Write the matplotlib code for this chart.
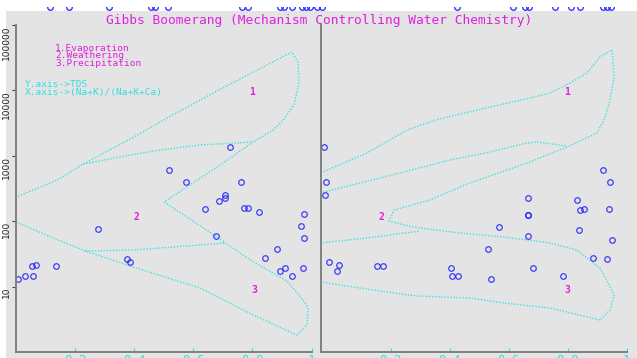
import numpy as np
import matplotlib
matplotlib.use('Agg')
import matplotlib.pyplot as plt
from matplotlib.patches import Rectangle

# Gibbs boomerang, two panels (TDS vs cation ratio / anion ratio)
W, H = 637, 358
mono = 'DejaVu Sans Mono'
magenta = '#e020e0'
cyan = '#30dede'
blue = '#2020ff'

# sample points, left panel
left_x = [0.724, 0.518, 0.575, 0.761, 0.707, 0.707, 0.687, 0.640, 0.772, 0.785,
          0.822, 0.975, 0.277, 0.964, 0.677, 0.975, 0.883, 0.843, 0.376, 0.386,
          0.054, 0.068, 0.135, 0.030, 0.058, 0.007, 0.893, 0.910, 0.971, 0.934]
left_tds = [1364, 607, 397, 397, 252, 226, 204, 154, 159, 159,
            138, 129, 76, 84.5, 59, 55, 37.6, 27.4, 26.4, 23.8,
            20.6, 21.4, 20.6, 14.5, 14.5, 13.1, 17.3, 19.2, 19.2, 14.5]

# sample points, right panel
right_x = [-0.026, -0.019, -0.022, 0.921, 0.944, 0.666, 0.832, 0.666, 0.666, 0.842,
           0.856, 0.940, 0.568, 0.839, 0.666, 0.951, 0.530, 0.886, 0.934, -0.009,
           0.025, 0.018, 0.154, 0.174, 0.405, 0.408, 0.429, 0.541, 0.683, 0.785]
right_tds = [1364, 397, 252, 607, 397, 226, 211, 124, 124, 148,
             154, 154, 81, 73, 59, 52, 37.6, 27.4, 26.4, 23.8,
             21.4, 17.3, 20.6, 20.6, 19.2, 14.5, 14.5, 13.1, 19.2, 14.5]

# boomerang outlines, left panel
left_outer_x = [0.000, 0.125, 0.234, 0.386, 0.623, 0.802, 0.951, 0.985, 0.988, 0.971,
                0.917, 0.792, 0.680, 0.501, 0.680, 0.802, 0.870, 0.904, 0.941, 0.958,
                0.954, 0.934, 0.816, 0.667, 0.511, 0.386, 0.227, 0.139, 0.000]
left_outer_y = [97.2, 55.3, 35.0, 20.6, 9.5, 3.68, 1.82, 2.59, 4.71, 6.24,
                12.2, 25.5, 57.3, 197, 674, 1625, 2478, 3524, 5980, 13430,
                27170, 38640, 20500, 9120, 3785, 1806, 750, 427, 234]
left_inner_up_x = [0.227, 0.386, 0.487, 0.623, 0.802]
left_inner_up_y = [750, 1028, 1228, 1463, 1625]
left_inner_lo_x = [0.234, 0.396, 0.623, 0.707]
left_inner_lo_y = [35.0, 36.3, 43.3, 46.4]

# boomerang outlines, right panel
right_outer_x = [-0.039, 0.096, 0.212, 0.290, 0.469, 0.585, 0.741, 0.910, 0.944, 0.958,
                 0.934, 0.910, 0.832, 0.741, 0.585, 0.435, 0.300, 0.246, 0.195, 0.212,
                 0.334, 0.459, 0.663, 0.798, 0.900, 0.927, 0.944, 0.958, 0.951, 0.910,
                 0.866, 0.808, 0.741, 0.673, 0.537, 0.364, 0.256, 0.120, -0.039]
right_outer_y = [11.8, 9.52, 7.99, 7.18, 6.69, 5.61, 4.71, 3.08, 4.39, 7.44,
                 12.2, 19.2, 36.3, 46.4, 57.3, 66.0, 78.8, 87.5, 100.7, 148,
                 211, 370, 776, 1364, 2232, 3785, 7130, 16030, 41500, 32430,
                 18450, 12970, 9120, 7650, 5570, 3655, 2478, 1104, 546]
right_inner_up_x = [-0.039, 0.178, 0.402, 0.537, 0.663, 0.697, 0.798]
right_inner_up_y = [270, 474, 863, 1143, 1570, 1625, 1413]
right_inner_lo_x = [-0.039, 0.120, 0.300]
right_inner_lo_y = [46.4, 55.3, 70.8]

# zone numbers
zone_labels = ['1', '2', '3']
left_zone_x = [0.80, 0.406, 0.805]
right_zone_x = [0.80, 0.17, 0.80]
zone_y = [9500, 115, 9]

# marks of the chart above, clipped at the top edge
strip_x = [0.078, 0.108, 0.171, 0.237, 0.243, 0.264, 0.380, 0.389, 0.440, 0.446,
           0.458, 0.474, 0.480, 0.487, 0.498, 0.505, 0.717, 0.805, 0.824, 0.830,
           0.871, 0.896, 0.911, 0.947, 0.953, 0.959]

xticks = [0.2, 0.4, 0.6, 0.8, 1.0]
xticklabels = ['0.2', '0.4', '0.6', '0.8', '1']
yticks = [10, 100, 1000, 10000, 100000]
yticklabels = ['10', '100', '1000', '10000', '100000']

fig = plt.figure(figsize=(W/100, H/100), dpi=100, facecolor='white')
fig.patches.append(Rectangle((6/W, 0), 1 - 6/W, 1 - 10.5/H, transform=fig.transFigure,
                             facecolor='#e4e4e4', edgecolor='none', zorder=-5))

# strip at top
axs = fig.add_axes([0, 1 - 10.5/H, 1, 3.5/H])
axs.set_xlim(0, 1)
axs.set_ylim(0, 1)
axs.plot(strip_x, [1]*len(strip_x), 'o', mfc='none', mec=blue, ms=4, mew=0.9, clip_on=True)
axs.axis('off')


def panel(rect, xlim, px, py, lines, zx, show_y):
    ax = fig.add_axes(rect)
    ax.set_facecolor('none')
    ax.set_yscale('log')
    ax.set_xlim(*xlim)
    ax.set_ylim(1, 100000)
    for lx, ly in lines:
        ax.plot(lx, ly, color='#40e0e0', lw=1.0, ls=(0, (1, 1.2)))
    ax.plot(px, py, 'o', mfc='none', mec=blue, ms=4, mew=0.9, alpha=0.85)
    for lab, x, y in zip(zone_labels, zx, zone_y):
        ax.text(x, y, lab, color=magenta, family=mono, fontsize=7, weight='bold',
                ha='center', va='center')
    for s in ['top', 'right']:
        ax.spines[s].set_visible(False)
    for s in ['left', 'bottom']:
        ax.spines[s].set_color('#808080')
        ax.spines[s].set_linewidth(1.4)
    ax.set_xticks(xticks)
    ax.set_xticklabels(xticklabels, family=mono, fontsize=9, color=cyan)
    ax.tick_params(axis='x', direction='in', length=3, width=0.8, color=cyan, pad=1.5)
    ax.minorticks_off()
    if show_y:
        ax.set_yticks(yticks)
        ax.set_yticklabels(yticklabels, rotation=90, va='top', fontsize=6.5, color='#202020')
        ax.tick_params(axis='y', direction='out', length=3, width=0.8, color='#404040', pad=0.5)
    else:
        ax.set_yticks([])
    return ax


axl = panel([16.3/W, 6/H, 295.2/W, 327/H], (0, 1), left_x, left_tds,
            [(left_outer_x, left_outer_y), (left_inner_up_x, left_inner_up_y),
             (left_inner_lo_x, left_inner_lo_y)], left_zone_x, True)
axr = panel([321/W, 6/H, 305.5/W, 327/H], (-0.036, 1), right_x, right_tds,
            [(right_outer_x, right_outer_y), (right_inner_up_x, right_inner_up_y),
             (right_inner_lo_x, right_inner_lo_y)], right_zone_x, False)

fig.text(319/W, 1 - 20.7/H, 'Gibbs Boomerang (Mechanism Controlling Water Chemistry)',
         color=magenta, family=mono, fontsize=9.3, ha='center', va='center')
for i, s in enumerate(['1.Evaporation', '2.Weathering', '3.Precipitation']):
    fig.text(55/W, 1 - (48.5 + 7.5*i)/H, s, color=magenta, family=mono, fontsize=6.8,
             ha='left', va='center')
for i, s in enumerate(['Y.axis->TDS', 'X.axis->(Na+K)/(Na+K+Ca)']):
    fig.text(25/W, 1 - (84.5 + 7.5*i)/H, s, color=cyan, family=mono, fontsize=6.8,
             ha='left', va='center')

fig.savefig('out.png', dpi=100, facecolor='white')
